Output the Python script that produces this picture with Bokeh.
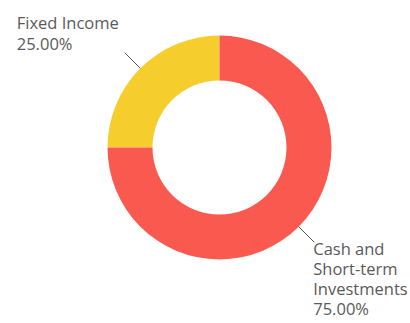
import math
from bokeh.plotting import figure
from bokeh.models import Range1d
from bokeh.core.properties import value
from bokeh.embed import file_html
from bokeh.resources import INLINE

# ---- data ----
categories = ["Fixed Income", "Cash and Short-term Investments"]
label_lines = [["Fixed Income"], ["Cash and", "Short-term", "Investments"]]
percentages = [25.00, 75.00]
colors = ["#F5CE2E", "#F9594F"]

# ---- layout (pixel-like coordinates; y measured upward) ----
W, H = 410, 323
cx, cy = 219, H - 147      # donut centre
r_out, r_in = 112, 67
lead_len = 22
font = "Open Sans"
fs = 16.5
line_h = [21, 20]
text_color = "#5a5a5a"

p = figure(width=W, height=H, output_backend="svg", toolbar_location=None,
           x_range=Range1d(0, W), y_range=Range1d(0, H), min_border=0)
p.axis.visible = False
p.grid.visible = False
p.outline_line_color = None
p.background_fill_color = None
p.border_fill_color = None

total = sum(percentages)
start = math.pi / 2
starts, ends = [], []
for v in percentages:
    a = 2 * math.pi * v / total
    starts.append(start)
    ends.append(start + a)
    start += a

p.annular_wedge(x=[cx] * len(percentages), y=[cy] * len(percentages),
                inner_radius=r_in, outer_radius=r_out,
                start_angle=starts, end_angle=ends,
                fill_color=colors, line_color=None)

# leader lines and labels
offsets = [(-108, 30), (-1, -6)]  # first-line anchor relative to leader end
for i, (s, e) in enumerate(zip(starts, ends)):
    mid = (s + e) / 2
    x0, y0 = cx + r_out * math.cos(mid), cy + r_out * math.sin(mid)
    x1, y1 = cx + (r_out + lead_len) * math.cos(mid), cy + (r_out + lead_len) * math.sin(mid)
    p.line([x0, x1], [y0, y1], line_color="#555555", line_width=1)
    lines = label_lines[i] + ["%.2f%%" % percentages[i]]
    tx = x1 + offsets[i][0]
    ty = y1 + offsets[i][1]
    p.text(x=[tx] * len(lines), y=[ty - k * line_h[i] for k in range(len(lines))],
           text=lines, text_font=value(font), text_font_size="%gpx" % fs,
           text_color=text_color, text_baseline="alphabetic", text_align="left")

open("out.html", "w").write(file_html(p, INLINE))
